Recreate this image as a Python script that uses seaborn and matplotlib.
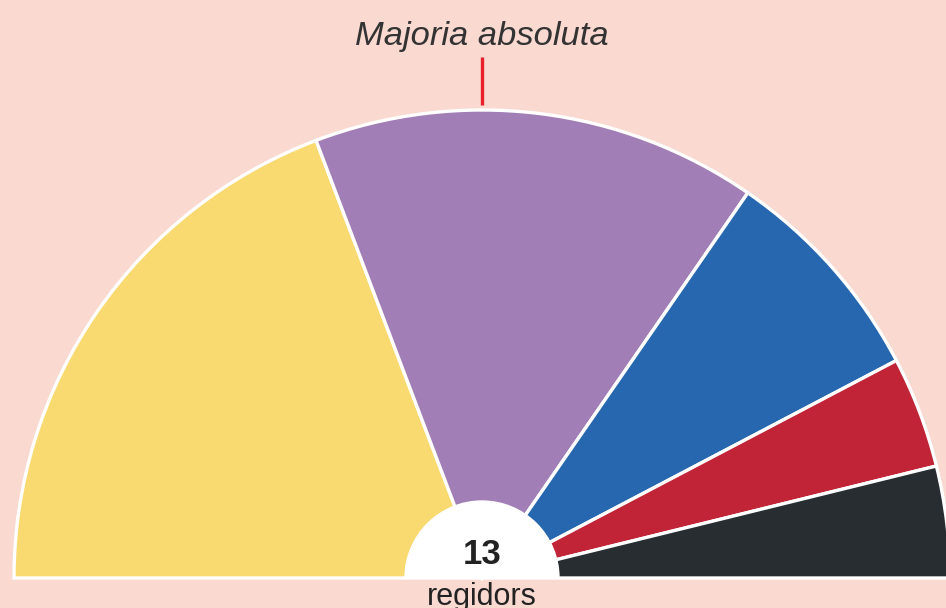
import matplotlib
matplotlib.use("Agg")
import matplotlib.pyplot as plt
from matplotlib.patches import Wedge
import seaborn as sns

# Data
parties = ["Groc", "Lila", "Blau", "Vermell", "Negre"]
seats = [5, 4, 2, 1, 1]
colors = ["#F9DA70", "#A27EB6", "#2767AF", "#C02436", "#282D31"]
total_label = "13"
unit_label = "regidors"
majority_label = "Majoria absoluta"

bg = "#F9D9D0"
sns.set_theme(style="white", rc={"figure.facecolor": bg, "axes.facecolor": bg})
plt.rcParams["font.family"] = ["Liberation Sans", "DejaVu Sans"]

fig = plt.figure(figsize=(9.46, 6.08), dpi=100)
ax = fig.add_axes([0, 0, 1, 1])
ax.set_facecolor(bg)

cx, cy = 482, 30
R = 468
total = sum(seats)
vals = seats + [total]
cols = colors + ["none"]
wedges, _ = ax.pie(vals, colors=cols, startangle=180, counterclock=False,
                   radius=R, center=(cx, cy), normalize=True,
                   wedgeprops=dict(edgecolor="white", linewidth=2.4))
wedges[-1].set_edgecolor("none")
wedges[-1].set_facecolor("none")

# white hole
ax.add_patch(Wedge((cx, cy), 77, 0, 180, facecolor="white", edgecolor="white", lw=1, zorder=5))

ax.text(cx, 54, total_label, ha="center", va="center", fontsize=25, fontweight="bold",
        color="#222222", zorder=6)
ax.text(cx, 3, unit_label, ha="center", va="baseline", fontsize=22, color="#222222", zorder=6)

ax.text(cx, 572, majority_label, ha="center", va="center", fontsize=24.8, fontstyle="italic",
        color="#333333")
ax.plot([cx, cx], [503, 551], color="#E8202A", lw=2.4, solid_capstyle="butt")

ax.set_xlim(0, 946)
ax.set_ylim(0, 608)
ax.set_aspect("auto")
ax.axis("off")
fig.savefig("out.png", dpi=100, facecolor=bg)
